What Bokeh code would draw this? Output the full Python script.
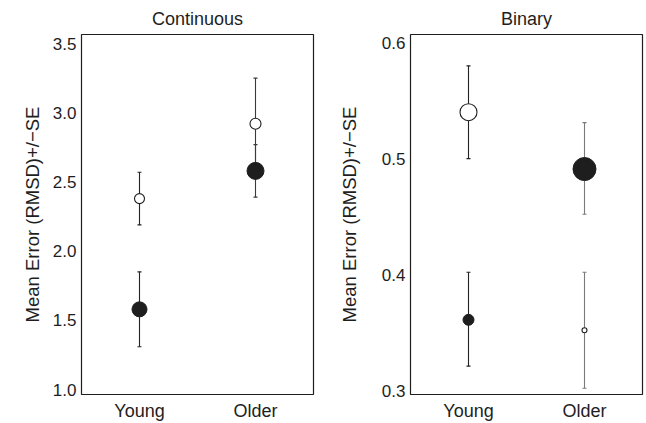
from bokeh.plotting import figure
from bokeh.layouts import row
from bokeh.models import FactorRange, Range1d, FixedTicker, PrintfTickFormatter
from bokeh.embed import file_html
from bokeh.resources import INLINE

# ---- data ----
groups = ["Young", "Older"]

cont_open_mean = [2.38, 2.92]
cont_open_lo = [2.19, 2.59]
cont_open_hi = [2.57, 3.25]
cont_filled_mean = [1.58, 2.58]
cont_filled_lo = [1.31, 2.39]
cont_filled_hi = [1.85, 2.77]
cont_ticks = [1.0, 1.5, 2.0, 2.5, 3.0, 3.5]

bin_open_mean = [0.54, 0.352]
bin_open_lo = [0.50, 0.302]
bin_open_hi = [0.58, 0.402]
bin_filled_mean = [0.361, 0.491]
bin_filled_lo = [0.321, 0.452]
bin_filled_hi = [0.402, 0.531]
bin_ticks = [0.3, 0.4, 0.5, 0.6]

FONT = "Liberation Sans"
INK = "#1e1e1e"


def make_panel(title, yr, ticks, om, olo, ohi, fm, flo, fhi,
               open_sizes, filled_sizes, bar_colors, bl, br, label_standoff):
    p = figure(width=323, height=423,
               x_range=FactorRange(factors=groups, range_padding=0),
               y_range=Range1d(*yr),
               output_backend="svg", toolbar_location=None,
               min_border_left=bl, min_border_right=br,
               min_border_top=34, min_border_bottom=29)
    p.title.text = title
    p.title.align = "center"
    p.title.text_font = FONT
    p.title.text_font_size = "18px"
    p.title.text_font_style = "normal"
    p.title.text_color = INK
    p.title.standoff = 12

    p.grid.visible = False
    p.outline_line_color = INK
    p.outline_line_width = 1.2
    p.background_fill_color = "white"
    p.border_fill_color = "white"

    for ax in (p.xaxis[0], p.yaxis[0]):
        ax.axis_line_color = None
        ax.major_tick_line_color = None
        ax.minor_tick_line_color = None
        ax.major_tick_in = 0
        ax.major_tick_out = 0
        ax.minor_tick_out = 0
        ax.major_label_text_font = FONT
        ax.major_label_text_font_size = "17px"
        ax.major_label_text_color = INK

    p.xaxis.major_label_text_font_size = "18px"
    p.xaxis.major_label_standoff = 6
    p.yaxis.major_label_standoff = 5
    p.yaxis.ticker = FixedTicker(ticks=ticks)
    p.yaxis.formatter = PrintfTickFormatter(format="%.1f")
    p.yaxis.axis_label = "Mean Error (RMSD)+/\u2212SE"
    p.yaxis.axis_label_text_font = FONT
    p.yaxis.axis_label_text_font_size = "18.5px"
    p.yaxis.axis_label_text_font_style = "normal"
    p.yaxis.axis_label_text_color = INK
    p.yaxis.axis_label_standoff = label_standoff

    # error bars
    for lo, hi in ((olo, ohi), (flo, fhi)):
        p.segment(x0=groups, y0=lo, x1=groups, y1=hi,
                  line_color=bar_colors, line_width=1.1)
        p.scatter(x=groups + groups, y=lo + hi, marker="dash", size=4,
                  line_color=bar_colors + bar_colors, line_width=1.2)

    # markers
    p.scatter(x=groups, y=om, size=open_sizes, fill_color="white",
              line_color=INK, line_width=1.1)
    p.scatter(x=groups, y=fm, size=filled_sizes, fill_color=INK,
              line_color=INK, line_width=1)
    return p


left = make_panel("Continuous", (0.965, 3.565), cont_ticks,
                  cont_open_mean, cont_open_lo, cont_open_hi,
                  cont_filled_mean, cont_filled_lo, cont_filled_hi,
                  open_sizes=[10, 11], filled_sizes=[15, 17],
                  bar_colors=["#222222", "#3a3a3a"], bl=81, br=10,
                  label_standoff=7)

right = make_panel("Binary", (0.2966, 0.607), bin_ticks,
                   bin_open_mean, bin_open_lo, bin_open_hi,
                   bin_filled_mean, bin_filled_lo, bin_filled_hi,
                   open_sizes=[17, 5], filled_sizes=[11, 23],
                   bar_colors=["#222222", "#7a7a7a"], bl=87, br=4,
                   label_standoff=19)

layout = row(left, right)

open("out.html", "w").write(file_html(layout, INLINE))
